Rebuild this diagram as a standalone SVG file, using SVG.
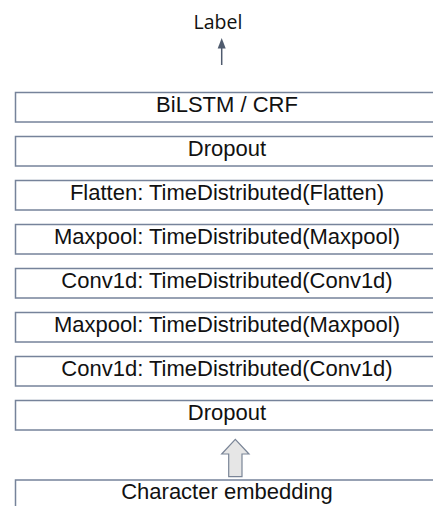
<svg xmlns="http://www.w3.org/2000/svg" width="433" height="506" viewBox="0 0 433 506">
<defs>
<style>
.box{fill:#ffffff;stroke:#76839a;stroke-width:1.5}
.t{font-family:"Liberation Sans",Arial,sans-serif;font-size:22px;fill:#111111;text-anchor:middle}
.lbl{font-family:"Open Sans","Noto Sans",sans-serif;font-size:19.5px;fill:#111111;text-anchor:middle}
</style>
<marker id="ah" markerWidth="8" markerHeight="10" refX="4" refY="0" viewBox="0 0 8 10" markerUnits="userSpaceOnUse" orient="auto-start-reverse">
<path d="M0,10 L4,0 L8,10 Z" fill="#4f5b6e"/>
</marker>
</defs>
<rect width="433" height="506" fill="#ffffff"/>
<text class="lbl" x="218" y="29.3">Label</text>
<g id="connectors">
<line x1="221.7" y1="65" x2="221.7" y2="47" stroke="#4f5b6e" stroke-width="1.5"/>
<path d="M217.7,48.5 L221.7,38 L225.7,48.5 Z" fill="#4f5b6e"/>
<path d="M228.7,476.7 L228.7,454 L221.7,454 L235.3,439.3 L249,454 L242,454 L242,476.7 Z" fill="#e6e6e6" stroke="#7a8597" stroke-width="1.2"/>
</g>
<g id="n1"><rect class="box" x="15.5" y="92.5" width="423" height="29.5"/><text class="t" x="227" y="112.3">BiLSTM / CRF</text></g>
<g id="n2"><rect class="box" x="15.5" y="136.5" width="423" height="29.5"/><text class="t" x="227" y="156.3">Dropout</text></g>
<g id="n3"><rect class="box" x="15.5" y="180.5" width="423" height="29.5"/><text class="t" x="227" y="200.3">Flatten: TimeDistributed(Flatten)</text></g>
<g id="n4"><rect class="box" x="15.5" y="224.5" width="423" height="29.5"/><text class="t" x="227" y="244">Maxpool: TimeDistributed(Maxpool)</text></g>
<g id="n5"><rect class="box" x="15.5" y="268.5" width="423" height="29.5"/><text class="t" x="227" y="288">Conv1d: TimeDistributed(Conv1d)</text></g>
<g id="n6"><rect class="box" x="15.5" y="312.5" width="423" height="29.5"/><text class="t" x="227" y="332">Maxpool: TimeDistributed(Maxpool)</text></g>
<g id="n7"><rect class="box" x="15.5" y="356.5" width="423" height="29.5"/><text class="t" x="227" y="376">Conv1d: TimeDistributed(Conv1d)</text></g>
<g id="n8"><rect class="box" x="15.5" y="400.5" width="423" height="29.5"/><text class="t" x="227" y="420">Dropout</text></g>
<g id="n9"><rect class="box" x="15.5" y="480" width="423" height="29.5"/><text class="t" x="227" y="498.5">Character embedding</text></g>
</svg>
